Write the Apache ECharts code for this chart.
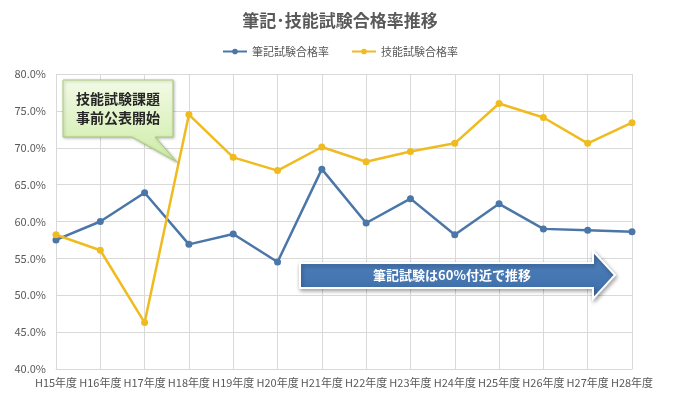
<!DOCTYPE html>
<html><head><meta charset="utf-8">
<script src="https://cdn.jsdelivr.net/npm/echarts@6/dist/echarts.min.js"></script>
<style>html,body{margin:0;padding:0;background:#fff}#c{width:680px;height:409px}</style>
</head><body><div id="c"></div>
<script>
const categories = ['H15年度','H16年度','H17年度','H18年度','H19年度','H20年度','H21年度','H22年度','H23年度','H24年度','H25年度','H26年度','H27年度','H28年度'];
const writtenRate = [57.5, 60.0, 63.9, 56.9, 58.3, 54.5, 67.1, 59.8, 63.1, 58.2, 62.4, 59.0, 58.8, 58.6];
const practicalRate = [58.2, 56.1, 46.3, 74.5, 68.7, 66.9, 70.1, 68.1, 69.5, 70.6, 76.0, 74.1, 70.6, 73.4];
const seriesNames = ['筆記試験合格率', '技能試験合格率'];
const titleText = '筆記･技能試験合格率推移';
const calloutText = '技能試験課題\n事前公表開始';
const arrowText = '筆記試験は60%付近で推移';

const FONT = '"Noto Sans CJK JP", "Noto Sans", sans-serif';
const chart = echarts.init(document.getElementById('c'), null, {renderer: 'canvas'});
chart.setOption({
  animation: false,
  textStyle: {fontFamily: FONT},
  title: {text: titleText, left: 'center', top: 7,
    textStyle: {fontFamily: FONT, fontSize: 17, fontWeight: 'bold', color: '#595959'}},
  legend: {top: 41, left: 'center', itemWidth: 24, itemHeight: 7, itemGap: 22,
    textStyle: {fontFamily: FONT, fontSize: 11, color: '#595959'}, data: seriesNames},
  grid: {left: 56, right: 48, top: 74, bottom: 40},
  xAxis: {type: 'category', data: categories, boundaryGap: false,
    axisLine: {lineStyle: {color: '#d9d9d9'}}, axisTick: {show: false},
    splitLine: {show: true, lineStyle: {color: '#d9d9d9'}},
    axisLabel: {color: '#595959', fontSize: 11, fontFamily: FONT, margin: 8, interval: 0}},
  yAxis: {type: 'value', min: 40, max: 80, interval: 5,
    axisLine: {show: false}, axisTick: {show: false},
    splitLine: {lineStyle: {color: '#d9d9d9'}},
    axisLabel: {color: '#595959', fontSize: 11, fontFamily: FONT, margin: 10,
      formatter: v => v.toFixed(1) + '%'}},
  series: [
    {name: seriesNames[0], type: 'line', data: writtenRate, symbol: 'circle', symbolSize: 7,
      itemStyle: {color: '#4a76a8'}, lineStyle: {width: 2.5, color: '#4a76a8'}},
    {name: seriesNames[1], type: 'line', data: practicalRate, symbol: 'circle', symbolSize: 7,
      itemStyle: {color: '#efbb1f'}, lineStyle: {width: 2.5, color: '#efbb1f'}}
  ],
  graphic: [
    {type: 'polygon', z: 100,
      shape: {points: [[63,80],[173,80],[173,137],[155,137],[177,162],[132,137],[63,137]]},
      style: {fill: new echarts.graphic.LinearGradient(0,0,0,1,[{offset:0,color:'#f3fae6'},{offset:1,color:'#cdeca6'}]),
        stroke: '#a9c97a', lineWidth: 1, shadowBlur: 3, shadowColor: 'rgba(0,0,0,0.25)', shadowOffsetX: 1, shadowOffsetY: 1}},
    {type: 'text', z: 101, x: 118, y: 108,
      style: {text: calloutText, align: 'center', verticalAlign: 'middle', fill: '#262626', font: 'bold 14px ' + FONT, lineHeight: 19}},
    {type: 'polygon', z: 100,
      shape: {points: [[300,263],[593,263],[593,251],[615,275],[593,299],[593,288],[300,288]]},
      style: {fill: new echarts.graphic.LinearGradient(0,0,0,1,[{offset:0,color:'#4f81bd'},{offset:1,color:'#3f6ea8'}]),
        stroke: '#ffffff', lineWidth: 2, shadowBlur: 4, shadowColor: 'rgba(0,0,0,0.35)', shadowOffsetX: 1, shadowOffsetY: 2}},
    {type: 'text', z: 101, x: 452, y: 275,
      style: {text: arrowText, align: 'center', verticalAlign: 'middle', fill: '#ffffff', font: 'bold 13px ' + FONT}}
  ]
});
</script></body></html>
